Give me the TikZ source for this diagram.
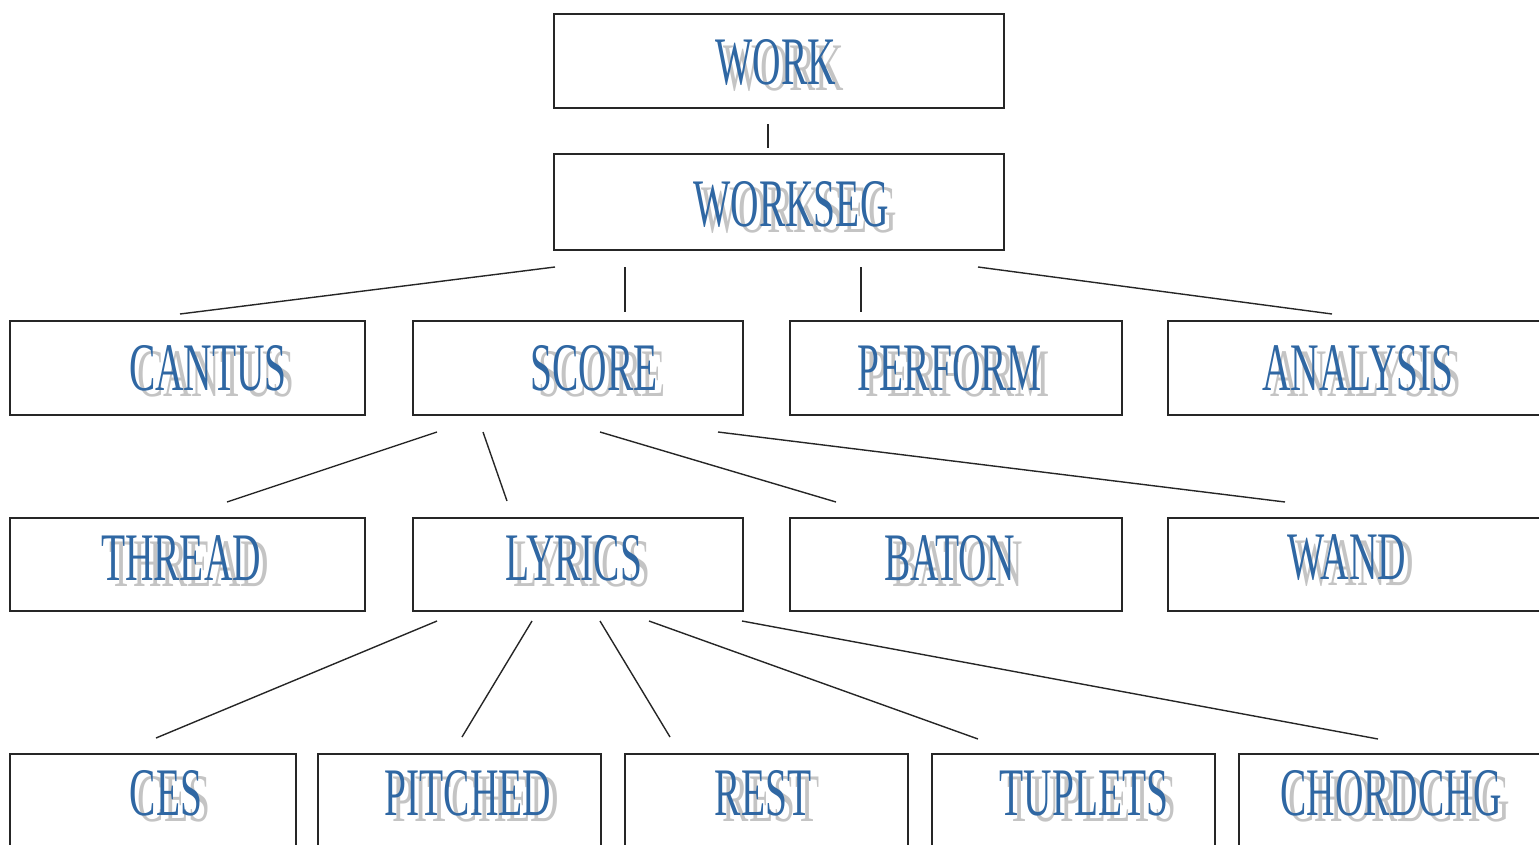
\documentclass[tikz,border=0pt]{standalone}
\usepackage{fontspec}
\setmainfont{Liberation Serif}
\usepackage{graphicx}
\definecolor{lblblue}{HTML}{2F67A3}
\definecolor{lblgray}{HTML}{C4C4C4}
\tikzset{
  box/.style={draw=black!85, line width=1.8pt, inner sep=0pt},
  link/.style={draw=black!85, line width=1.4pt},
  lbltext/.style={inner sep=0pt, font=\fontsize{68}{68}\selectfont},
}
\newcommand{\mybox}[5]{% name, x1, y1, x2, y2
  \node[box, minimum width=#4-#2, minimum height=#5-#3] (#1) at ({(#2+#4)/2},{(#3+#5)/2}) {};}
\newcommand{\mylbl}[4]{% name, x, y, text
  \node[lbltext, text=lblgray] (#1s) at (#2+8,#3+6) {\scalebox{0.58}[1]{#4}};
  \node[lbltext, text=lblblue] (#1) at (#2,#3) {\scalebox{0.58}[1]{#4}};}
\begin{document}
\begin{tikzpicture}[x=1pt,y=-1pt]
\useasboundingbox (0,0) rectangle (1539,844);
\clip (0,0) rectangle (1539,844);
% boxes
\mybox{work}{554}{14}{1004}{108}
\mybox{workseg}{554}{154}{1004}{250}
\mybox{cantus}{10}{321}{365}{415}
\mybox{score}{413}{321}{743}{415}
\mybox{perform}{790}{321}{1122}{415}
\mybox{analysis}{1168}{321}{1560}{415}
\mybox{thread}{10}{518}{365}{611}
\mybox{lyrics}{413}{518}{743}{611}
\mybox{baton}{790}{518}{1122}{611}
\mybox{wand}{1168}{518}{1560}{611}
\mybox{ces}{10}{754}{296}{870}
\mybox{pitched}{318}{754}{601}{870}
\mybox{rest}{625}{754}{908}{870}
\mybox{tuplets}{932}{754}{1215}{870}
\mybox{chordchg}{1239}{754}{1560}{870}
% labels
\mylbl{workL}{776}{62}{WORK}
\mylbl{worksegL}{791}{204}{WORKSEG}
\mylbl{cantusL}{208}{368}{CANTUS}
\mylbl{scoreL}{594}{368}{SCORE}
\mylbl{performL}{950}{368}{PERFORM}
\mylbl{analysisL}{1358}{368}{ANALYSIS}
\mylbl{threadL}{181}{558}{THREAD}
\mylbl{lyricsL}{574}{558}{LYRICS}
\mylbl{batonL}{950}{558}{BATON}
\mylbl{wandL}{1347}{558}{WAND}
\mylbl{cesL}{166}{793}{CES}
\mylbl{pitchedL}{468}{793}{PITCHED}
\mylbl{restL}{763}{793}{REST}
\mylbl{tupletsL}{1084}{793}{TUPLETS}
\mylbl{chordchgL}{1391}{793}{CHORDCHG}
% connector ends
\coordinate (a0) at (768,124); \coordinate (b0) at (768,148);
\coordinate (a1) at (555,267); \coordinate (b1) at (180,314);
\coordinate (a2) at (625,267); \coordinate (b2) at (625,312);
\coordinate (a3) at (861,267); \coordinate (b3) at (861,312);
\coordinate (a4) at (978,267); \coordinate (b4) at (1332,314);
\coordinate (c1) at (437,432); \coordinate (d1) at (227,502);
\coordinate (c2) at (483,432); \coordinate (d2) at (507,501);
\coordinate (c3) at (600,432); \coordinate (d3) at (836,502);
\coordinate (c4) at (718,432); \coordinate (d4) at (1285,502);
\coordinate (e1) at (437,621); \coordinate (f1) at (156,738);
\coordinate (e2) at (532,621); \coordinate (f2) at (462,737);
\coordinate (e3) at (600,621); \coordinate (f3) at (670,737);
\coordinate (e4) at (649,621); \coordinate (f4) at (978,739);
\coordinate (e5) at (742,621); \coordinate (f5) at (1378,739);
\foreach \p/\q in {a0/b0,a1/b1,a2/b2,a3/b3,a4/b4,c1/d1,c2/d2,c3/d3,c4/d4,e1/f1,e2/f2,e3/f3,e4/f4,e5/f5}
  \draw[link] (\p) -- (\q);
\end{tikzpicture}
\end{document}
